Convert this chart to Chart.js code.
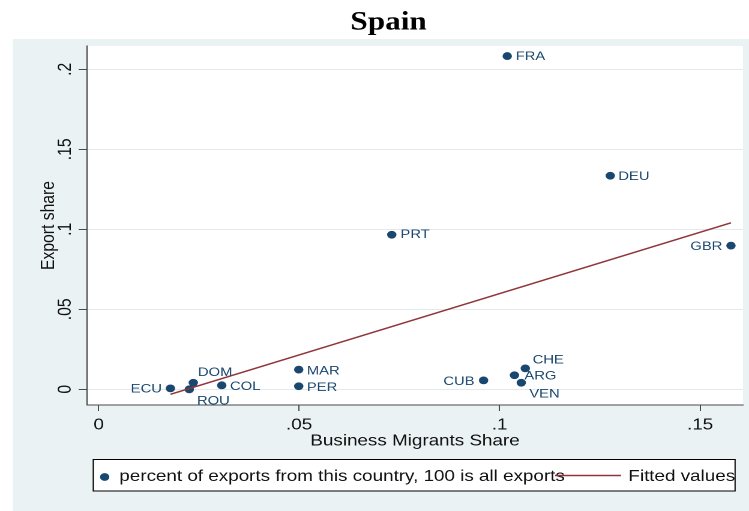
<!DOCTYPE html>
<html>
<head>
<meta charset="utf-8">
<title>Spain</title>
<script src="https://cdn.jsdelivr.net/npm/chart.js@4.4.1/dist/chart.umd.min.js"></script>
<style>
  html, body { margin: 0; padding: 0; background: #ffffff; overflow: hidden; }
  /* The figure is laid out on a 624px-wide canvas and widened to the 749px page. */
  #frame { width: 624px; height: 511px; transform: scaleX(1.20032); transform-origin: 0 0; }
</style>
</head>
<body>
<div id="frame"><canvas id="chart" width="624" height="511"></canvas></div>
<script>
// ---- data -------------------------------------------------------------
const countries    = ['FRA', 'DEU', 'GBR', 'PRT', 'MAR', 'PER', 'ECU', 'DOM', 'ROU', 'COL', 'CUB', 'ARG', 'CHE', 'VEN'];
const migrantShare = [0.1019, 0.1276, 0.1577, 0.0731, 0.0499, 0.0499, 0.0179, 0.0236, 0.0226, 0.0307, 0.0960, 0.1037, 0.1064, 0.1054];
const exportShare  = [0.2083, 0.1335, 0.0898, 0.0966, 0.0123, 0.0019, 0.0006, 0.0041, 0.0000, 0.0025, 0.0056, 0.0088, 0.0131, 0.0041];

// linear fit, drawn between the smallest and largest migrant share
const fitX = [0.0179, 0.1577];
const fitY = [-0.0031, 0.1041];

const xTickValues = [0, 0.05, 0.1, 0.15];
const xTickLabels = ['0', '.05', '.1', '.15'];
const yTickValues = [0, 0.05, 0.1, 0.15, 0.2];
const yTickLabels = ['0', '.05', '.1', '.15', '.2'];

// ---- styling ----------------------------------------------------------
const navy = '#1a476f';
const maroon = '#90353b';
const panelBg = '#eaf2f3';
const gridColor = '#e2eaec';
const axisColor = '#4a4a4a';
const sans = '"Liberation Sans", Arial, sans-serif';

// where each marker label sits relative to its marker: [dx, dy, textAlign]
const labelPlacement = {
  FRA: [7, 0.5, 'left'],  DEU: [6.7, 1, 'left'],  GBR: [-7.2, 1, 'right'],
  PRT: [7.3, 0, 'left'],  MAR: [6.8, 1.3, 'left'], PER: [6.8, 1.3, 'left'],
  ECU: [-7.1, 0.7, 'right'], DOM: [3.9, -10.4, 'left'], ROU: [6.4, 11.7, 'left'],
  COL: [6.9, 1.4, 'left'],  CUB: [-7.5, 1, 'right'], ARG: [8.3, 0.7, 'left'],
  CHE: [6.1, -8.3, 'left'], VEN: [6.7, 11.3, 'left']
};

const scatterPoints = migrantShare.map((x, i) => ({ x: x, y: exportShare[i] }));
const fitPoints = fitX.map((x, i) => ({ x: x, y: fitY[i] }));

// graph-region tint and white plot panel
const panelPlugin = {
  id: 'panel',
  beforeDraw(chart) {
    const { ctx, width, height, chartArea: a } = chart;
    ctx.save();
    ctx.fillStyle = '#ffffff';
    ctx.fillRect(0, 0, width, height);
    ctx.fillStyle = panelBg;
    ctx.fillRect(10.8, 39, width - 10.8, height - 39);
    ctx.fillStyle = '#ffffff';
    ctx.fillRect(a.left, a.top, a.right - a.left, a.bottom - a.top);
    ctx.restore();
  }
};

// country codes next to the markers
const markerLabelPlugin = {
  id: 'markerLabels',
  afterDatasetsDraw(chart) {
    const meta = chart.getDatasetMeta(0);
    const ctx = chart.ctx;
    ctx.save();
    ctx.font = '12.3px ' + sans;
    ctx.fillStyle = navy;
    ctx.textBaseline = 'middle';
    meta.data.forEach((pt, i) => {
      const code = countries[i];
      const p = labelPlacement[code] || [7, 0, 'left'];
      ctx.textAlign = p[2];
      ctx.fillText(code, pt.x + p[0], pt.y + p[1]);
    });
    ctx.restore();
  }
};

// boxed legend below the x axis
const boxLegendPlugin = {
  id: 'boxLegend',
  afterDraw(chart) {
    const ctx = chart.ctx;
    const ds = chart.data.datasets;
    const box = { left: 77.7, top: 459.5, right: 612.4, bottom: 491 };
    const midY = 476.5;
    ctx.save();
    ctx.fillStyle = '#ffffff';
    ctx.fillRect(box.left, box.top, box.right - box.left, box.bottom - box.top);
    ctx.strokeStyle = '#000000';
    ctx.lineWidth = 1;
    ctx.strokeRect(box.left, box.top, box.right - box.left, box.bottom - box.top);

    ctx.fillStyle = ds[0].backgroundColor;
    ctx.beginPath();
    ctx.arc(87.2, 477, 3.9, 0, Math.PI * 2);
    ctx.fill();

    ctx.font = '15.7px ' + sans;
    ctx.textBaseline = 'middle';
    ctx.textAlign = 'left';
    ctx.fillStyle = '#111111';
    ctx.fillText(ds[0].label, 99.4, midY);

    ctx.strokeStyle = ds[1].borderColor;
    ctx.lineWidth = 1.5;
    ctx.beginPath();
    ctx.moveTo(462.4, 475.5);
    ctx.lineTo(517.4, 475.5);
    ctx.stroke();

    ctx.fillStyle = '#111111';
    ctx.fillText(ds[1].label, 523.5, midY);
    ctx.restore();
  }
};

new Chart(document.getElementById('chart'), {
  type: 'scatter',
  data: {
    datasets: [
      {
        label: 'percent of exports from this country, 100 is all exports',
        data: scatterPoints,
        backgroundColor: navy,
        borderColor: navy,
        borderWidth: 0,
        pointRadius: 3.9,
        pointHoverRadius: 3.9,
        order: 1
      },
      {
        label: 'Fitted values',
        data: fitPoints,
        showLine: true,
        borderColor: maroon,
        backgroundColor: maroon,
        borderWidth: 1.5,
        pointRadius: 0,
        pointHoverRadius: 0,
        fill: false,
        order: 0
      }
    ]
  },
  options: {
    responsive: false,
    animation: false,
    devicePixelRatio: 2,
    events: [],
    layout: { padding: { left: 28.4, right: 5, top: 0, bottom: 60.6 } },
    plugins: {
      legend: { display: false },
      tooltip: { enabled: false },
      title: {
        display: true,
        text: 'Spain',
        color: '#000000',
        font: { family: '"Liberation Serif", "Times New Roman", serif', size: 26, weight: 'bold', lineHeight: 1.2 },
        padding: { top: 7.4, bottom: 7.4 }
      }
    },
    scales: {
      x: {
        type: 'linear',
        position: 'bottom',
        min: -0.0029,
        max: 0.1607,
        afterBuildTicks(scale) { scale.ticks = xTickValues.map(v => ({ value: v })); },
        afterFit(scale) { scale.height = 45.4; },
        ticks: {
          includeBounds: false,
          color: '#111111',
          font: { family: sans, size: 15.7 },
          padding: 5,
          maxRotation: 0,
          autoSkip: false,
          callback: (value, index) => xTickLabels[index]
        },
        grid: {
          drawOnChartArea: false,
          drawTicks: true,
          tickLength: 6,
          tickColor: axisColor,
          tickWidth: 1
        },
        border: { display: true, color: axisColor, width: 1 },
        title: {
          display: true,
          text: 'Business Migrants Share',
          color: '#111111',
          font: { family: sans, size: 15.7 },
          padding: { top: 0, bottom: 0 }
        }
      },
      y: {
        type: 'linear',
        position: 'left',
        min: -0.0098,
        max: 0.2146,
        afterBuildTicks(scale) { scale.ticks = yTickValues.map(v => ({ value: v })); },
        afterFit(scale) { scale.width = 44.1; },
        ticks: {
          includeBounds: false,
          color: '#111111',
          font: { family: sans, size: 15.7 },
          padding: 0,
          minRotation: 90,
          maxRotation: 90,
          crossAlign: 'center',
          autoSkip: false,
          callback: (value, index) => yTickLabels[index]
        },
        grid: {
          drawOnChartArea: true,
          color: gridColor,
          lineWidth: 1,
          drawTicks: true,
          tickLength: 7,
          tickColor: axisColor,
          tickWidth: 1
        },
        border: { display: true, color: axisColor, width: 1 },
        title: {
          display: true,
          text: 'Export share',
          color: '#111111',
          font: { family: sans, size: 15.7 },
          padding: { top: 3, bottom: 0 }
        }
      }
    }
  },
  plugins: [panelPlugin, markerLabelPlugin, boxLegendPlugin]
});
</script>
</body>
</html>
